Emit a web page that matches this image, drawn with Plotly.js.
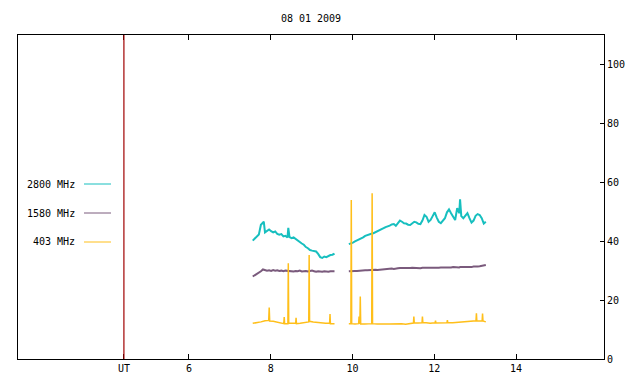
<!DOCTYPE html>
<html><head><meta charset="utf-8">
<script src="https://cdn.plot.ly/plotly-3.0.1.min.js"></script>
<style>html,body{margin:0;padding:0;background:#fff}#chart{width:640px;height:384px}</style>
</head><body><div id="chart"></div>
<script>
// ---- data ----
const title = "08 01 2009";
const seriesNames = ["2800 MHz", "1580 MHz", "403 MHz"];
const seriesColors = ["#17bfbf", "#7a5a7c", "#ffbf1a"];
const utMarker = 4.41;
const tickVals = [4.41, 6, 8, 10, 12, 14];
const tickText = ["UT", "6", "8", "10", "12", "14"];

// shared time grid (UT hours) for 2800 / 1580 MHz
const timeT = [7.56,7.61,7.66,7.71,7.76,7.81,7.83,7.86,7.91,7.96,8.01,8.06,8.11,8.16,8.21,8.26,8.31,8.36,8.41,8.43,8.46,8.51,8.56,8.61,8.66,8.71,8.76,8.81,8.86,8.91,8.96,9.01,9.06,9.11,9.16,9.21,9.26,9.31,9.36,9.41,9.46,9.51,9.56,
 null,
 9.91,9.96,10.01,10.06,10.11,10.16,10.21,10.26,10.31,10.36,10.41,10.46,10.51,10.56,10.61,10.66,10.71,10.76,10.81,10.86,10.91,10.96,11.01,11.06,11.11,11.16,11.21,11.26,11.31,11.36,11.41,11.46,11.51,11.56,11.61,11.66,11.71,11.76,11.81,11.86,11.91,11.96,12.01,12.06,12.11,12.16,12.21,12.26,12.31,12.36,12.41,12.46,12.51,12.56,12.61,12.63,12.66,12.71,12.76,12.81,12.86,12.91,12.96,13.01,13.06,13.11,13.16,13.21,13.26];

const flux2800 = [40.2,40.8,41.5,42.3,45.6,46.2,46.6,43.0,43.5,44.0,43.4,43.0,43.3,42.5,42.2,42.4,41.6,41.8,41.3,44.5,41.4,41.0,41.3,40.7,40.4,39.6,39.2,38.8,38.0,37.6,37.0,36.8,36.6,36.5,35.7,34.6,34.3,34.8,34.6,35.0,35.3,35.4,35.8,
 null,
 39.0,39.2,39.5,39.9,40.2,40.6,40.9,41.3,41.8,42.1,42.3,42.5,42.7,43.0,43.5,43.8,44.1,44.4,44.8,45.0,45.3,45.7,45.8,45.2,46.3,47.0,46.6,46.1,46.0,45.6,45.5,46.0,46.6,46.4,45.9,45.8,47.0,48.9,48.3,46.6,47.2,48.5,49.8,48.0,46.6,46.1,46.8,47.8,49.8,50.8,49.5,48.2,47.2,51.2,49.5,54.2,48.5,47.8,48.6,49.5,47.8,46.3,47.0,48.6,49.2,48.9,47.8,46.0,46.6];

const flux1580 = [28.0,28.4,28.8,29.2,29.8,30.4,30.3,30.2,30.0,30.1,29.9,30.2,30.0,30.1,29.9,30.0,29.8,30.0,29.9,30.0,29.8,29.9,29.7,29.9,29.8,30.0,29.7,29.8,29.9,29.7,29.8,30.0,29.8,29.6,29.8,29.7,29.6,29.8,29.7,29.6,29.8,29.7,29.8,
 null,
 29.8,29.9,29.8,29.9,29.9,30.0,29.9,30.0,30.1,30.1,30.2,30.1,30.2,30.3,30.2,30.3,30.4,30.5,30.4,30.6,30.6,30.7,30.6,30.8,30.8,30.9,30.8,30.9,30.9,30.8,30.9,31.0,30.9,31.0,30.9,30.8,31.0,30.9,31.0,31.0,30.9,31.0,31.0,30.9,31.0,31.1,31.0,31.1,31.1,31.0,31.1,31.2,31.1,31.2,31.1,31.2,31.2,31.1,31.3,31.2,31.3,31.2,31.4,31.3,31.4,31.5,31.6,31.8,31.9];

const time403 = [7.56,7.66,7.76,7.86,7.95,7.963,7.975,8.06,8.16,8.26,8.32,8.33,8.34,8.42,8.43,8.44,8.52,8.61,8.62,8.63,8.72,8.82,8.93,8.94,8.95,9.04,9.14,9.24,9.34,9.44,9.45,9.46,9.56,
 null,
 9.91,9.96,9.97,9.98,10.06,10.15,10.16,10.17,10.18,10.19,10.20,10.30,10.40,10.47,10.48,10.49,10.60,10.70,10.80,10.90,11.00,11.10,11.20,11.30,11.40,11.49,11.50,11.51,11.60,11.70,11.71,11.72,11.80,11.90,12.02,12.03,12.04,12.15,12.31,12.32,12.33,12.45,12.55,12.65,12.75,12.85,12.95,13.02,13.03,13.04,13.10,13.17,13.18,13.19,13.26];
const flux403 = [12.1,12.3,12.6,13.0,13.1,17.5,12.9,12.8,12.4,12.0,12.0,14.2,12.0,12.0,32.5,12.1,12.0,12.1,14.0,12.0,12.1,12.3,12.6,35.3,12.8,12.6,12.4,12.2,12.1,12.1,15.3,12.0,12.0,
 null,
 12.0,12.0,54.0,12.0,11.9,12.0,14.4,12.0,11.9,21.2,11.9,11.9,12.0,12.0,56.3,12.0,11.9,11.8,11.9,11.9,12.0,11.9,12.0,11.8,12.0,12.2,14.4,12.3,12.2,12.3,14.4,12.4,12.3,12.1,12.3,13.0,12.2,12.2,12.3,13.2,12.3,12.3,12.4,12.5,12.6,12.7,12.8,13.0,15.5,13.0,12.9,13.0,15.4,12.9,12.6];

// ---- chart ----
const traces = [
  {x: timeT, y: flux2800, name: seriesNames[0], line: {color: seriesColors[0], width: 2}},
  {x: timeT, y: flux1580, name: seriesNames[1], line: {color: seriesColors[1], width: 2}},
  {x: time403, y: flux403, name: seriesNames[2], line: {color: seriesColors[2], width: 1.5}}
].map(t => Object.assign({type: 'scatter', mode: 'lines', connectgaps: false, hoverinfo: 'skip'}, t));

const font = {family: '"DejaVu Sans Mono", monospace', size: 10, color: '#000'};
const W = 586, H = 324, L = 18, B = 359;
const px = v => (v - L) / W, py = v => (B - v) / H;
const legendY = [184, 213, 242];

const annotations = seriesNames.map((n, i) => ({
  xref: 'paper', yref: 'paper', x: px(77), y: py(legendY[i]), xanchor: 'right', yanchor: 'middle',
  text: n, showarrow: false, font: font
}));
const shapes = seriesNames.map((n, i) => ({
  type: 'line', xref: 'paper', yref: 'paper', x0: px(84), x1: px(111), y0: py(legendY[i]), y1: py(legendY[i]),
  line: {color: seriesColors[i], width: 1}
}));
shapes.push({type: 'line', xref: 'x', yref: 'paper', x0: utMarker, x1: utMarker, y0: 0, y1: 1,
  line: {color: '#a00000', width: 1.2}});

const layout = {
  width: 640, height: 384,
  margin: {l: 18, r: 36, t: 35, b: 25, pad: 0},
  paper_bgcolor: '#fff', plot_bgcolor: '#fff',
  showlegend: false,
  font: font,
  title: {text: title, font: font, x: px(311) , xref: 'paper', y: 1 - 18/384, yref: 'container', xanchor: 'center', yanchor: 'middle'},
  xaxis: {range: [1.82, 16.15], tickvals: tickVals, ticktext: tickText, ticks: 'inside', ticklen: 5, tickcolor: '#000',
    showline: true, linecolor: '#000', linewidth: 1, mirror: 'ticks', showgrid: false, zeroline: false, tickfont: font},
  yaxis: {range: [0, 110], side: 'right', tickvals: [0,20,40,60,80,100], ticks: 'inside', ticklen: 4, tickcolor: '#000',
    showline: true, linecolor: '#000', linewidth: 1, mirror: true, showgrid: false, zeroline: false, tickfont: font},
  annotations: annotations, shapes: shapes
};
Plotly.newPlot('chart', traces, layout, {staticPlot: true, displayModeBar: false});
</script></body></html>
